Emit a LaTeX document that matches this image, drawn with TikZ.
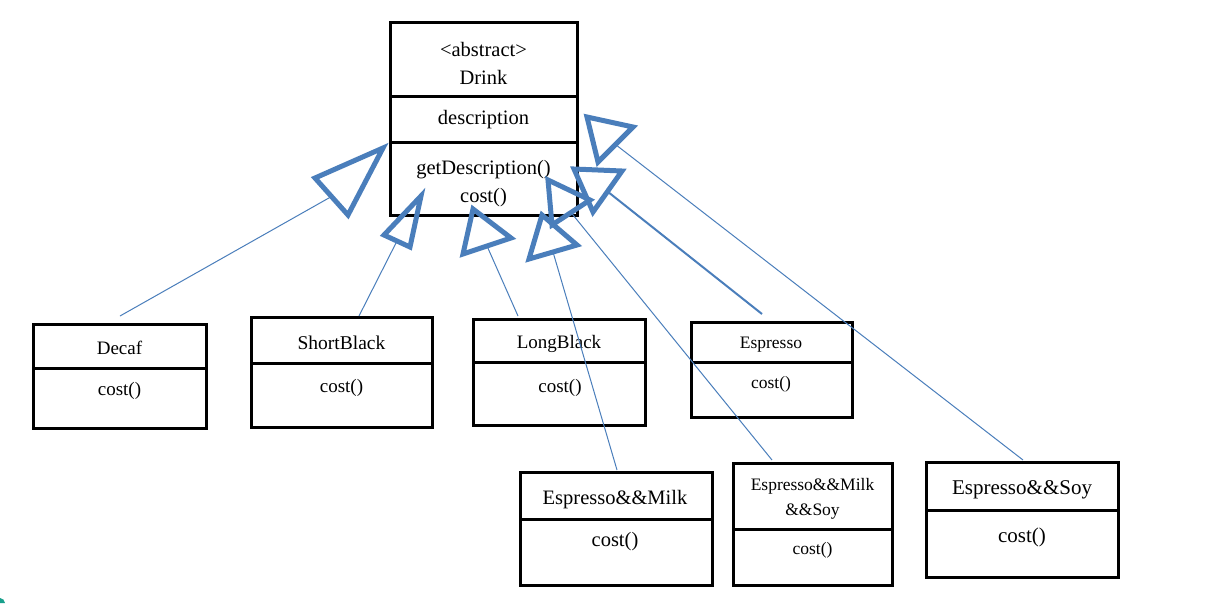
\documentclass[tikz,border=0pt]{standalone}
\usepackage{fontspec}
\setmainfont{Liberation Serif}
\usetikzlibrary{calc}
\definecolor{umlblue}{RGB}{74,126,187}
\definecolor{cornerteal}{RGB}{24,160,140}
\newcommand\setfs[1]{\fontsize{#1}{#1}\selectfont}
\tikzset{
  compart/.style={draw=black, line width=3pt, inner sep=0pt, outer sep=0pt, anchor=north west},
  lbl/.style={inner sep=0pt, outer sep=0pt, anchor=center, yshift=-2.5pt},
  genline/.style={draw=umlblue, line width=1pt},
  genhead/.style={draw=umlblue, line width=5pt, line join=miter},
}
\begin{document}
\begin{tikzpicture}[x=1pt, y=-1pt]
\useasboundingbox (0,0) rectangle (1210,603);
\fill[white] (0,0) rectangle (1210,603);
\fill[cornerteal] (0,603) -- (0,598) .. controls (2.5,598) and (5,600.5) .. (5,603) -- cycle;

% ---- abstract base class
\node[compart, minimum width=187pt, minimum height=74pt] (drinkH) at (390,22) {};
\node[compart, minimum width=187pt, minimum height=46pt] (drinkA) at (drinkH.south west) {};
\node[compart, minimum width=187pt, minimum height=73pt] (drinkM) at (drinkA.south west) {};
\node[lbl, font=\setfs{20.5}] (drinkSt) at (483.5,47) {<abstract>};
\node[lbl, font=\setfs{20.5}] (drinkN) at (483.5,75) {Drink};
\node[lbl, font=\setfs{20.5}] (drinkAt) at (483.5,117) {description};
\node[lbl, font=\setfs{20.5}] (drinkM1) at (483.5,167) {getDescription()};
\node[lbl, font=\setfs{20.5}] (drinkM2) at (483.5,195) {cost()};

% ---- subclasses
\node[compart, minimum width=173pt, minimum height=44pt] (decafH) at (33,324) {};
\node[compart, minimum width=173pt, minimum height=60pt] (decafB) at (decafH.south west) {};
\node[lbl, font=\setfs{19}] (decafN) at (119.5,345) {Decaf};
\node[lbl, font=\setfs{19}] (decafC) at (119.5,388) {cost()};

\node[compart, minimum width=181pt, minimum height=46pt] (shortH) at (251,317) {};
\node[compart, minimum width=181pt, minimum height=64pt] (shortB) at (shortH.south west) {};
\node[lbl, font=\setfs{19.5}] (shortN) at (341.5,340) {ShortBlack};
\node[lbl, font=\setfs{19}] (shortC) at (341.5,385) {cost()};

\node[compart, minimum width=172pt, minimum height=43pt] (longH) at (473,319) {};
\node[compart, minimum width=172pt, minimum height=63pt] (longB) at (longH.south west) {};
\node[lbl, font=\setfs{19}] (longN) at (559,341) {LongBlack};
\node[lbl, font=\setfs{19}] (longC) at (560,385) {cost()};

\node[compart, minimum width=161pt, minimum height=40pt] (espH) at (691,322) {};
\node[compart, minimum width=161pt, minimum height=55pt] (espB) at (espH.south west) {};
\node[lbl, font=\setfs{17.5}] (espN) at (771,342) {Espresso};
\node[lbl, font=\setfs{17.5}] (espC) at (771,382) {cost()};

\node[compart, minimum width=192pt, minimum height=47pt] (milkH) at (520,472) {};
\node[compart, minimum width=192pt, minimum height=66pt] (milkB) at (milkH.south west) {};
\node[lbl, font=\setfs{20.5}] (milkN) at (615,497) {Espresso\&\&Milk};
\node[lbl, font=\setfs{20.5}] (milkC) at (615,539) {cost()};

\node[compart, minimum width=159pt, minimum height=66pt] (msH) at (733,463) {};
\node[compart, minimum width=159pt, minimum height=56pt] (msB) at (msH.south west) {};
\node[lbl, font=\setfs{17.5}] (msN1) at (812.5,484) {Espresso\&\&Milk};
\node[lbl, font=\setfs{17.5}] (msN2) at (812.5,509) {\&\&Soy};
\node[lbl, font=\setfs{17.5}] (msC) at (812.5,548) {cost()};

\node[compart, minimum width=192pt, minimum height=48pt] (soyH) at (926,462) {};
\node[compart, minimum width=192pt, minimum height=67pt] (soyB) at (soyH.south west) {};
\node[lbl, font=\setfs{21}] (soyN) at (1022,487) {Espresso\&\&Soy};
\node[lbl, font=\setfs{21}] (soyC) at (1022,535) {cost()};

% ---- connector ends beside the subclasses
\coordinate (decafEnd) at (120,316);
\coordinate (shortEnd) at (359,316);
\coordinate (longEnd)  at (518,316);
\coordinate (espEnd)   at (762,314);
\coordinate (milkEnd)  at (617,470);
\coordinate (msEnd)    at (772,460);
\coordinate (soyEnd)   at (1023,460);

% ---- hollow generalization heads (apex, base corner, base corner)
\coordinate (decafT1) at (383,148); \coordinate (decafT2) at (315,178); \coordinate (decafT3) at (348,215);
\coordinate (shortT1) at (421,196); \coordinate (shortT2) at (384,235); \coordinate (shortT3) at (410,247);
\coordinate (longT1)  at (473,209); \coordinate (longT2)  at (463,254); \coordinate (longT3)  at (511,238);
\coordinate (milkT1)  at (542,215); \coordinate (milkT2)  at (529,259); \coordinate (milkT3)  at (577,245);
\coordinate (msT1)    at (548,180); \coordinate (msT2)    at (552,225); \coordinate (msT3)    at (590,200);
\coordinate (espT1)   at (574,169); \coordinate (espT2)   at (622,171); \coordinate (espT3)   at (593,212);
\coordinate (soyT1)   at (587,117); \coordinate (soyT2)   at (633,127); \coordinate (soyT3)   at (598,162);

% ---- connectors
\draw[genline] (decafEnd) -- ($(decafT2)!0.5!(decafT3)$);
\draw[genline] (shortEnd) -- ($(shortT2)!0.5!(shortT3)$);
\draw[genline] (longEnd)  -- ($(longT2)!0.5!(longT3)$);
\draw[genline] (milkEnd)  -- ($(milkT2)!0.5!(milkT3)$);
\draw[genline] (msEnd)    -- ($(msT2)!0.5!(msT3)$);
\draw[genline, line width=2pt] (espEnd) -- ($(espT2)!0.5!(espT3)$);
\draw[genline] (soyEnd)   -- ($(soyT2)!0.5!(soyT3)$);

\foreach \t in {decaf,short,long,milk,ms,esp,soy}
  \draw[genhead] (\t T1) -- (\t T2) -- (\t T3) -- cycle;
\end{tikzpicture}
\end{document}
